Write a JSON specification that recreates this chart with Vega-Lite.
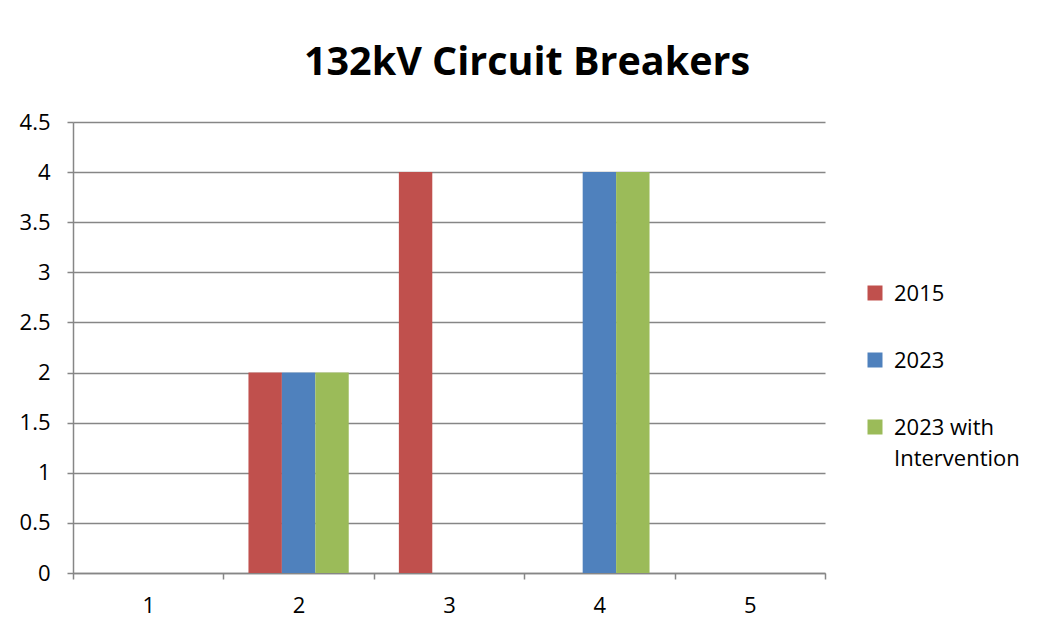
{
  "$schema": "https://vega.github.io/schema/vega-lite/v6.json",
  "width": 752,
  "height": 451,
  "autosize": "none",
  "padding": {"left": 73, "top": 122, "right": 216, "bottom": 64},
  "background": "white",
  "title": {
    "text": "132kV Circuit Breakers",
    "font": "Open Sans",
    "fontSize": 39.5,
    "fontWeight": "bold",
    "color": "black",
    "anchor": "middle",
    "dx": 78,
    "baseline": "alphabetic",
    "offset": -3
  },
  "data": {
    "values": [
      {"cat": "1", "series": "2015", "value": 0},
      {"cat": "1", "series": "2023", "value": 0},
      {"cat": "1", "series": "2023 with Intervention", "value": 0},
      {"cat": "2", "series": "2015", "value": 2},
      {"cat": "2", "series": "2023", "value": 2},
      {"cat": "2", "series": "2023 with Intervention", "value": 2},
      {"cat": "3", "series": "2015", "value": 4},
      {"cat": "3", "series": "2023", "value": 0},
      {"cat": "3", "series": "2023 with Intervention", "value": 0},
      {"cat": "4", "series": "2015", "value": 0},
      {"cat": "4", "series": "2023", "value": 4},
      {"cat": "4", "series": "2023 with Intervention", "value": 4},
      {"cat": "5", "series": "2015", "value": 0},
      {"cat": "5", "series": "2023", "value": 0},
      {"cat": "5", "series": "2023 with Intervention", "value": 0}
    ]
  },
  "mark": {"type": "bar"},
  "encoding": {
    "x": {
      "field": "cat",
      "type": "ordinal",
      "scale": {"paddingInner": 0, "paddingOuter": 0},
      "axis": {
        "title": null,
        "labelAngle": 0,
        "tickBand": "extent",
        "grid": false,
        "domainColor": "#868686",
        "domainWidth": 1.5,
        "tickColor": "#868686",
        "tickWidth": 1.5,
        "tickSize": 6,
        "labelFont": "Open Sans",
        "labelFontSize": 22,
        "labelColor": "black",
        "labelPadding": 16
      }
    },
    "xOffset": {
      "field": "series",
      "type": "nominal",
      "sort": ["2015", "2023", "2023 with Intervention"],
      "scale": {"paddingInner": 0, "paddingOuter": 0.75}
    },
    "y": {
      "field": "value",
      "type": "quantitative",
      "scale": {"domain": [0, 4.5], "nice": false},
      "axis": {
        "title": null,
        "values": [0, 0.5, 1, 1.5, 2, 2.5, 3, 3.5, 4, 4.5],
        "format": "~g",
        "grid": true,
        "gridColor": "#868686",
        "gridWidth": 1.5,
        "domainColor": "#868686",
        "domainWidth": 1.5,
        "tickColor": "#868686",
        "tickWidth": 1.5,
        "tickSize": 6,
        "labelFont": "Open Sans",
        "labelFontSize": 22,
        "labelColor": "black",
        "labelPadding": 17
      }
    },
    "color": {
      "field": "series",
      "type": "nominal",
      "scale": {
        "domain": ["2015", "2023", "2023 with Intervention"],
        "range": ["#C0504D", "#4F81BD", "#9BBB59"]
      },
      "legend": {
        "title": null,
        "orient": "none",
        "legendX": 791,
        "legendY": 160,
        "symbolType": "square",
        "symbolSize": 225,
        "symbolStrokeWidth": 0,
        "labelFont": "Open Sans",
        "labelFontSize": 22,
        "labelColor": "black",
        "labelOffset": 8,
        "labelBaseline": "alphabetic",
        "rowPadding": 44,
        "labelExpr": "datum.label == '2023 with Intervention' ? ['2023 with', 'Intervention'] : datum.label",
        "encode": {
          "labels": {
            "update": {
              "dy": {"value": 8},
              "lineHeight": {"value": 31}
            }
          }
        }
      }
    }
  },
  "config": {"view": {"stroke": null}}
}
